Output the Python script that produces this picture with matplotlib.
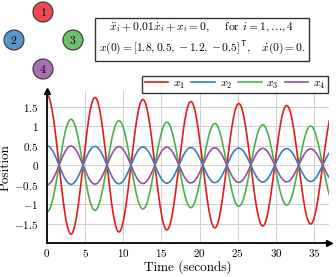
import numpy as np
import matplotlib
matplotlib.use("Agg")
import matplotlib.pyplot as plt
from matplotlib.patches import Circle

plt.rcParams['font.family'] = 'serif'
plt.rcParams['font.serif'] = ['cmr10', 'DejaVu Serif']
plt.rcParams['mathtext.fontset'] = 'cm'
plt.rcParams['axes.unicode_minus'] = False

# system: x_i'' + c x_i' + x_i = 0, x(0) = x0, x'(0) = 0
damping = 0.01
x0 = [1.8, 0.5, -1.2, -0.5]
labels = [r'$x_1$', r'$x_2$', r'$x_3$', r'$x_4$']
colors = ['#e41a1c', '#377eb8', '#4daf4a', '#984ea3']
circle_fill = ['#ec4a4d', '#5b96c8', '#6fc06c', '#a770b5']
node_names = ['1', '2', '3', '4']

x_ticks = [0, 5, 10, 15, 20, 25, 30, 35]
y_ticks = [-1.5, -1, -0.5, 0, 0.5, 1, 1.5]
y_ticklabels = [r'$-1.5$', r'$-1$', r'$-0.5$', r'$0$', r'$0.5$', r'$1$', r'$1.5$']

t = np.linspace(0, 37, 1500)
zeta = damping / 2
wd = np.sqrt(1 - zeta ** 2)
base = np.exp(-zeta * t) * (np.cos(wd * t) + zeta / wd * np.sin(wd * t))

fig = plt.figure(figsize=(3.36, 2.77), dpi=100)
ax = fig.add_axes([0.14, 0.123, 0.84, 0.547])

for v, lab, c in zip(x0, labels, colors):
    ax.plot(t, v * base, color=c, lw=1.2, label=lab)

ax.set_xlim(0, 37)
ax.set_ylim(-2, 1.9)
ax.set_xticks(x_ticks)
ax.set_xticklabels([r'$%d$' % v for v in x_ticks])
ax.set_yticks(y_ticks)
ax.set_yticklabels(y_ticklabels)
ax.tick_params(length=0, labelsize=8)
ax.tick_params(axis='x', pad=3)
ax.tick_params(axis='y', pad=6)
ax.grid(True, color='#d0d0d0', lw=0.7)
ax.set_axisbelow(True)
for s in ['top', 'right']:
    ax.spines[s].set_visible(False)
for s in ['left', 'bottom']:
    ax.spines[s].set_linewidth(1.3)
ax.plot(1, 0, '>k', ms=5, transform=ax.transAxes, clip_on=False)
ax.plot(0, 1, '^k', ms=5, transform=ax.transAxes, clip_on=False)

ax.set_xlabel('Time (seconds)', fontsize=9.5, labelpad=1)
ax.set_ylabel('Position', fontsize=9.5, labelpad=2)

leg = ax.legend(loc='lower right', bbox_to_anchor=(0.995, 0.99), ncol=4,
                fontsize=8.5, frameon=True, fancybox=False, edgecolor='black',
                handlelength=2.0, handletextpad=0.4, columnspacing=0.5,
                borderpad=0.2, borderaxespad=0)
leg.get_frame().set_linewidth(1.0)

# graph nodes top-left
node_xy = [(43, 12), (14, 40), (73, 40), (43, 69)]
for (px, py), fc, name in zip(node_xy, circle_fill, node_names):
    cx, cy = px / 336, 1 - py / 277
    fig.patches.append(Circle((px, 277 - py), 10, transform=None, facecolor=fc,
                              edgecolor='#333333', lw=0.8))
    fig.text(cx, cy, r'$%s$' % name, ha='center', va='center', fontsize=8.5)

eq = (r'$\ddot{x}_i + 0.01\dot{x}_i + x_i = 0,\quad$ for $i = 1,\ldots,4$' + '\n' +
      r'$x(0) = \left[1.8, 0.5, -1.2, -0.5\right]^{\mathsf{T}},\quad \dot{x}(0) = 0.$')
fig.text(202 / 336, 1 - 39 / 277, eq, ha='center', va='center', fontsize=8.3,
         linespacing=1.55,
         bbox=dict(boxstyle='square,pad=0.3', facecolor='white', edgecolor='#333333', lw=1.0))

fig.savefig('out.png', dpi=100)
